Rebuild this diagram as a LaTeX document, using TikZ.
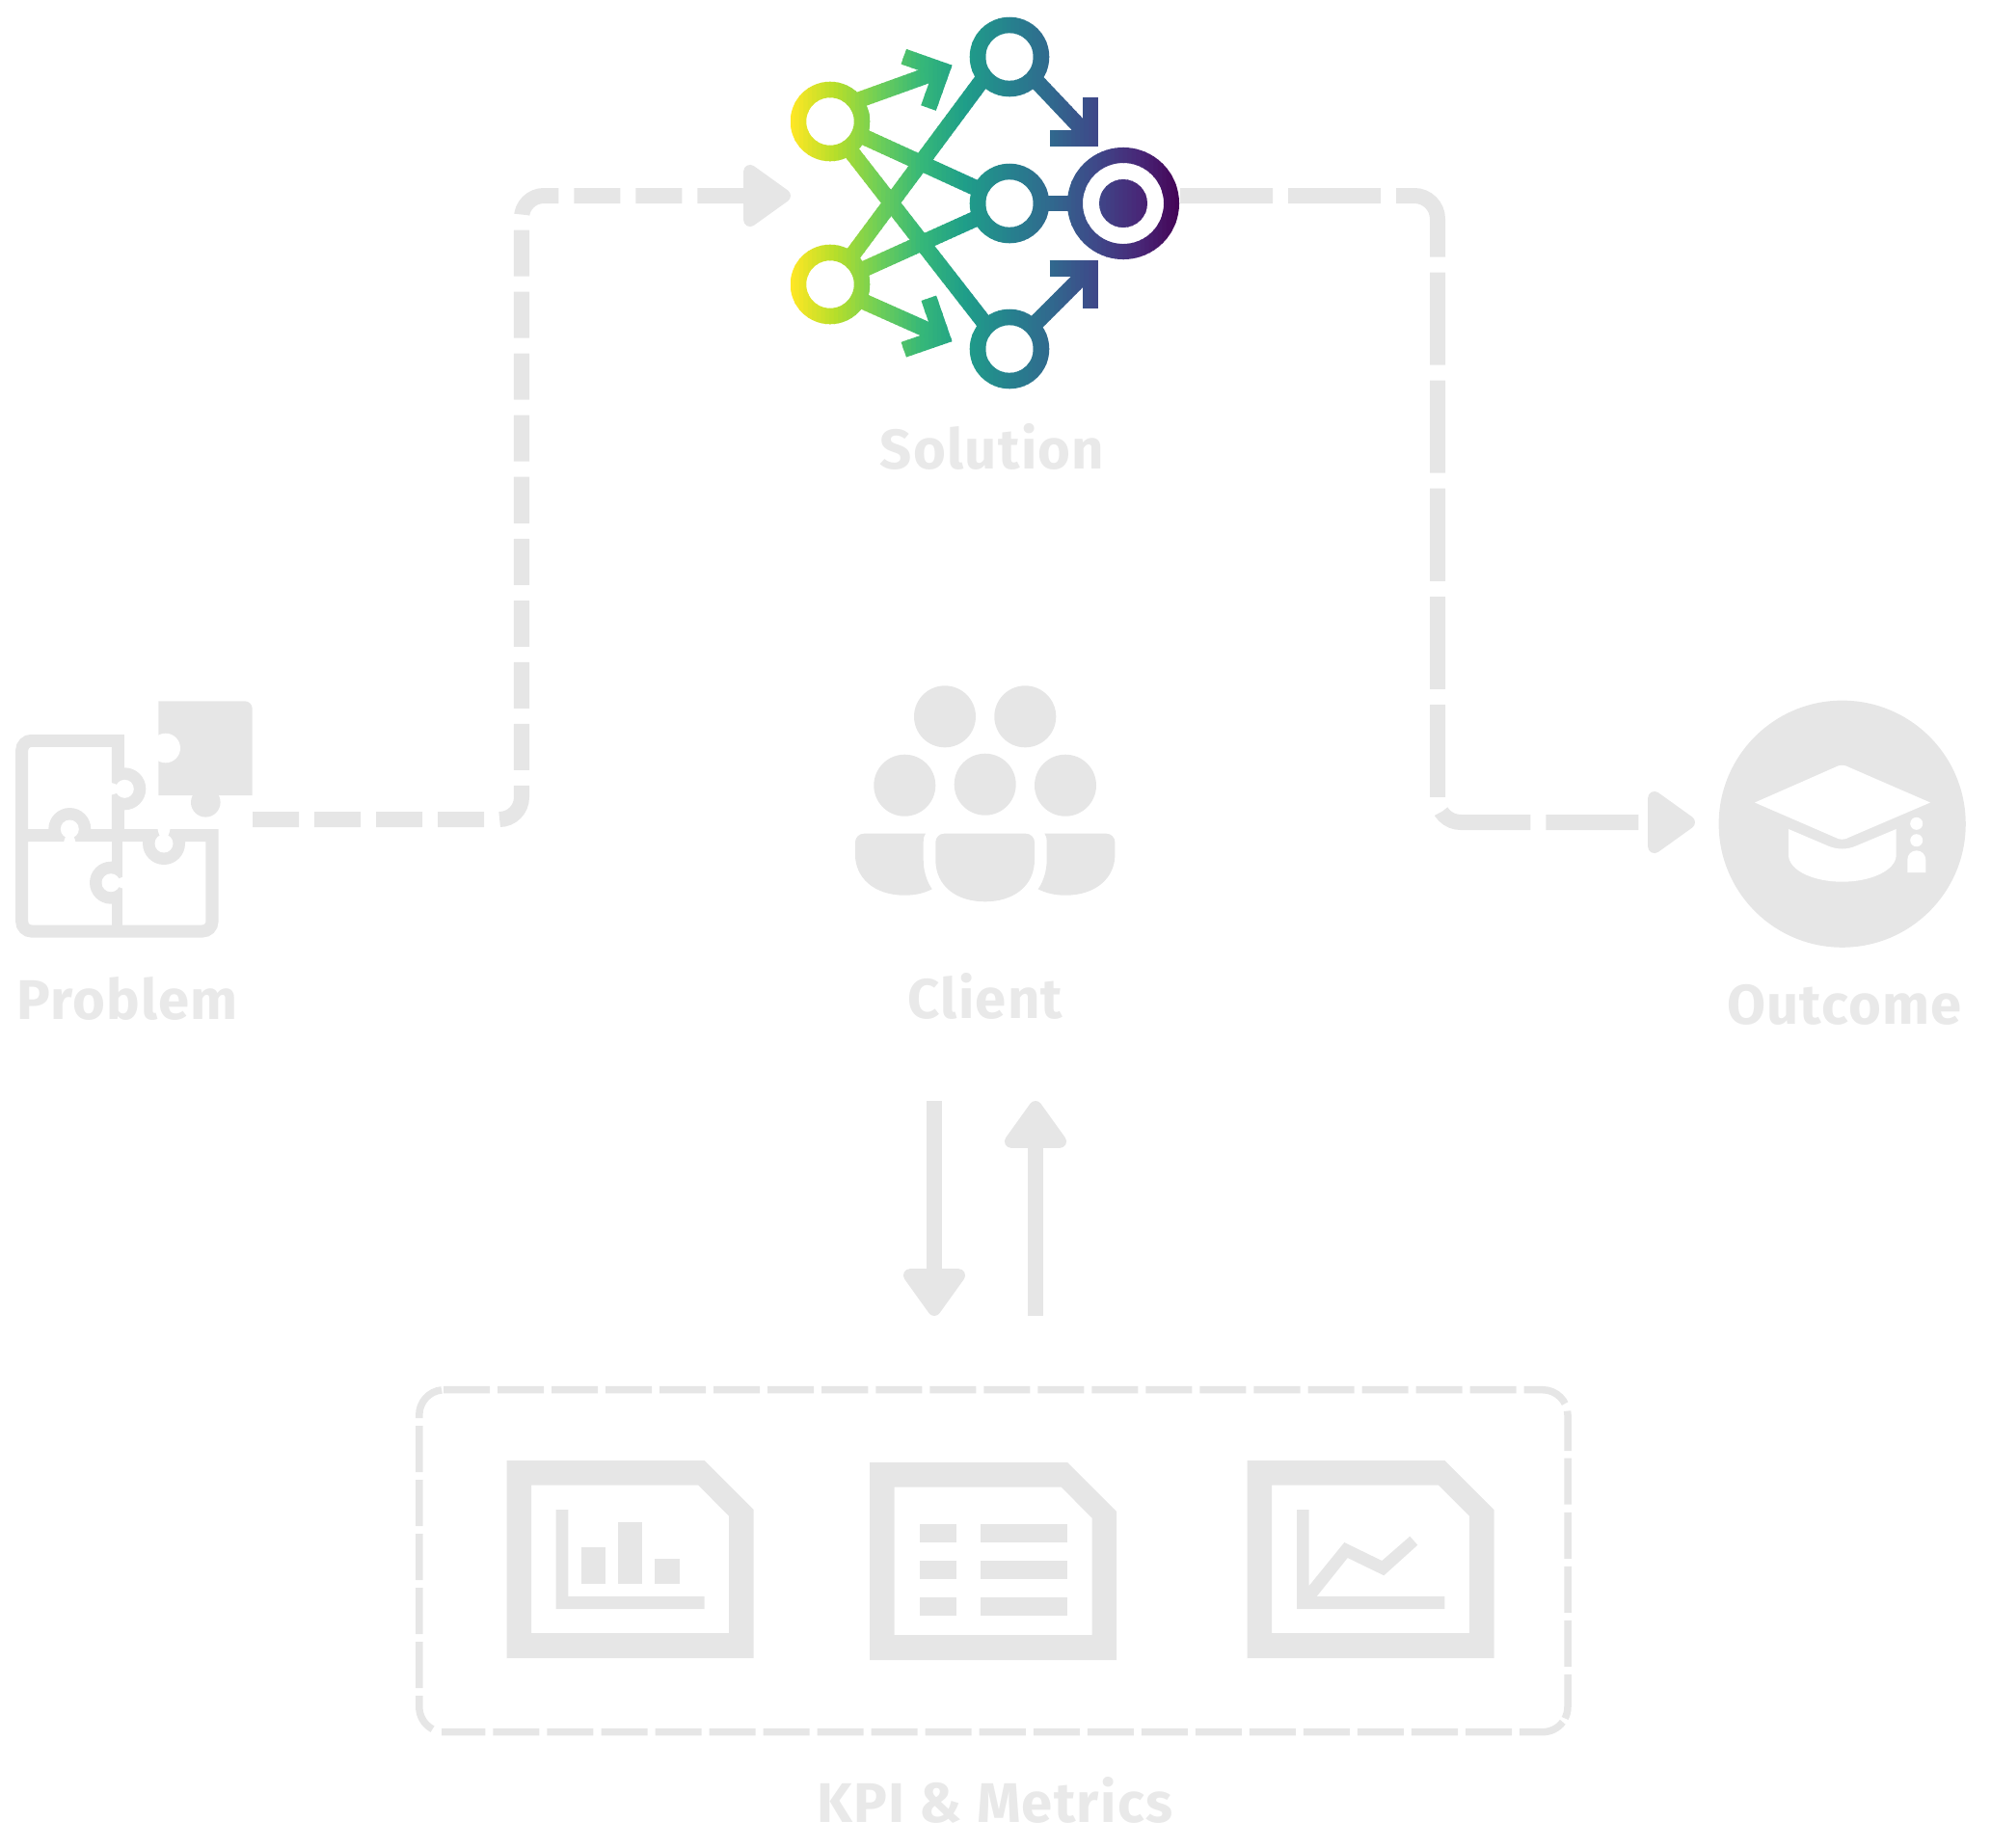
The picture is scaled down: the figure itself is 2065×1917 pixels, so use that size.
\documentclass[tikz,border=0pt]{standalone}
\usepackage{fontspec}
\setmainfont{Fira Sans}[LetterSpace=2.2]
\usetikzlibrary{arrows.meta, positioning}

\definecolor{icongray}{HTML}{E6E6E6}
\definecolor{vir0}{HTML}{FDE725}
\definecolor{vir1}{HTML}{B5DE2B}
\definecolor{vir2}{HTML}{6ECE58}
\definecolor{vir3}{HTML}{35B779}
\definecolor{vir4}{HTML}{1F9E89}
\definecolor{vir5}{HTML}{26828E}
\definecolor{vir6}{HTML}{31688E}
\definecolor{vir7}{HTML}{3E4989}
\definecolor{vir8}{HTML}{482878}
\definecolor{vir9}{HTML}{440154}

\tikzset{
  flowtip/.tip={Triangle[length=15.4pt,width=20.8pt,line width=4.4pt,round]},
  flowdash/.style={draw=icongray, line width=0.16cm, -{flowtip}},
  netnode/.style={circle, draw, line width=0.165cm, minimum size=0.66cm, inner sep=0pt, outer sep=0pt},
  netline/.style={line width=0.165cm},
  puzzleline/.style={draw=icongray, line width=0.13cm},
  kpidash/.style={draw=icongray, line width=0.075cm, dash pattern=on 0.48cm off 0.08cm},
  lbl/.style={anchor=base, text=icongray!90!white, font=\fontsize{16.5pt}{20pt}\selectfont\bfseries}
}

\newcommand{\solutionicon}{%
  \node[netnode] (inA) at (861,126) {};
  \node[netnode] (inB) at (861,295) {};
  \node[netnode] (hidA) at (1047,59) {};
  \node[netnode] (hidB) at (1047,211) {};
  \node[netnode] (hidC) at (1047,362) {};
  \node[netnode, line width=0.16cm, minimum size=1cm] (goal) at (1165,211) {};
  \fill (goal) circle (25);
  \coordinate (tipA) at (977,72.7);
  \coordinate (tipB) at (977,349);
  \coordinate (tipC) at (1131,143.3);
  \coordinate (tipD) at (1131,278.3);
  \coordinate (outA) at (890,104);
  \coordinate (outB) at (893.3,311.7);
  \coordinate (outC) at (1071.7,80.7);
  \coordinate (outD) at (1070.7,338.7);
  \coordinate (crossA) at (880,153.7);
  \coordinate (crossB) at (1023.7,338.3);
  \coordinate (crossC) at (881.3,268.3);
  \coordinate (crossD) at (1021,80);
  \draw[netline] (inA) -- (hidB);
  \draw[netline] (inB) -- (hidB);
  \draw[netline] (crossA) -- (crossB);
  \draw[netline] (crossC) -- (crossD);
  \draw[netline] (hidB) -- (goal);
  \draw[netline] (outA) -- (tipA);
  \draw[netline] (outB) -- (tipB);
  \draw[netline] (outC) -- (tipC);
  \draw[netline] (outD) -- (tipD);
  \draw[netline] (937.3,58.7) -- (tipA) -- (963,112);
  \draw[netline] (937.3,362.7) -- (tipB) -- (963.3,309.3);
  \draw[netline] (1131,101) -- (tipC) -- (1088.7,143.3);
  \draw[netline] (1088.7,278.3) -- (tipD) -- (1131,320);
}

\newcommand{\puzzletab}[3]{%
  \begin{scope}[shift={(#1,#2)}, rotate=#3]
    \fill[icongray] (-7,-22) -- (0,-22) arc (-90:90:22) -- (-7,22) -- cycle;
    \fill[white] (0,0) circle (9.5);
    \fill[white] (-15,-6.5) -- (-11,-5.5) -- (-5,-3) -- (-5,3) -- (-11,5.5) -- (-15,6.5) -- cycle;
  \end{scope}
}

\newcommand{\kpisheet}[2]{%
  \begin{scope}[shift={(#1,#2)}]
    \fill[icongray, even odd rule] (0,0) -- (205,0) -- (256,51) -- (256,205) -- (0,205) -- cycle
      (25.5,25.5) -- (198.5,25.5) -- (230.5,57.7) -- (230.5,179) -- (25.5,179) -- cycle;
  \end{scope}
}

\begin{document}
\begin{tikzpicture}[x=0.01cm, y=-0.01cm]
\useasboundingbox (0,0) rectangle (2065,1917);

\coordinate (problemout) at (262,850);
\coordinate (solutionin) at (820,203);
\coordinate (solutionout) at (1224,203);
\coordinate (outcomein) at (1758,853);
\coordinate (clienttop) at (969,1142);
\coordinate (kpitop) at (969,1365);
\coordinate (kpiup) at (1074,1365);
\coordinate (clientup) at (1074,1142);

\draw[flowdash, dash pattern=on 0.48cm off 0.16cm, rounded corners=0.23cm] (problemout) -- (541,850) -- (541,203) -- (solutionin);
\draw[flowdash, dash pattern=on 0.96cm off 0.16cm, rounded corners=0.24cm] (solutionout) -- (1491,203) -- (1491,853) -- (outcomein);
\draw[flowdash] (clienttop) -- (kpitop);
\draw[flowdash] (kpiup) -- (clientup);

\foreach \a/\b [count=\n from 0] in {vir0/vir1, vir1/vir2, vir2/vir3, vir3/vir4, vir4/vir5, vir5/vir6, vir6/vir7, vir7/vir8, vir8/vir9}{
  \foreach \s in {0,...,9}{
    \pgfmathsetmacro{\xa}{820+(\n*10+\s)*4.48}
    \pgfmathtruncatemacro{\p}{100-\s*10}
    \begin{scope}[color=\a!\p!\b]
      \clip (\xa,0) rectangle (\xa+5.5,420);
      \solutionicon
    \end{scope}
  }
}

\fill[icongray] (164.3,727.3) -- (254,727.3) arc (-90:0:7.7) -- (261.7,825) -- (164.3,825) -- cycle;
\fill[icongray] (213.3,832.3) circle (15.3);
\fill[white] (171.7,776) circle (15.3);
\draw[puzzleline] (122.3,866.7) -- (122.3,768.3) [rounded corners=0.1cm] -- (22.7,768.3) -- (22.7,966) -- (220,966) [sharp corners] -- (220,866.7) -- (22.7,866.7);
\draw[puzzleline, line width=0.115cm] (121.3,866.7) -- (121.3,966);
\puzzletab{129.3}{818.3}{0}
\puzzletab{72.3}{860}{90}
\puzzletab{115}{915.7}{180}
\puzzletab{170}{875}{-90}

\foreach \x/\y in {980/743.3, 1063.3/743.3, 938.3/814.7, 1021.7/813.7, 1105/814.7}
  \fill[icongray] (\x,\y) circle (32);
\fill[icongray] (970.3,873.7) arc (180:270:9) -- (1064,864.7) arc (-90:0:9) -- (1073,891.7) .. controls (1073,920) and (1050,935.3) .. (1021.7,935.3) .. controls (993,935.3) and (970.3,920) .. (970.3,891.7) -- cycle;
\fill[icongray] (887,873.7) arc (180:270:9) -- (960,864.7) .. controls (958,868) and (957.7,870) .. (957.7,873) -- (957.7,891.7) .. controls (957.7,903) and (961,914) .. (966.7,922.3) .. controls (958,926.7) and (949,928.7) .. (938.3,928.7) .. controls (906,928.7) and (887,910) .. (887,886.7) -- cycle;
\fill[icongray] (1156.4,873.7) arc (0:-90:9) -- (1083.4,864.7) .. controls (1085.4,868) and (1085.7,870) .. (1085.7,873) -- (1085.7,891.7) .. controls (1085.7,903) and (1082.4,914) .. (1076.7,922.3) .. controls (1085.4,926.7) and (1094.4,928.7) .. (1105,928.7) .. controls (1137.4,928.7) and (1156.4,910) .. (1156.4,886.7) -- cycle;

\node[circle, fill=icongray, minimum size=2.56cm, inner sep=0pt] (outcome) at (1910.7,854.7) {};
\fill[white, line join=round] (1820,832.5) -- (1903,796) .. controls (1908,793) and (1913,793) .. (1918,796) -- (2002,832.5) -- (1918,868.5) .. controls (1913,871.5) and (1908,871.5) .. (1903,868.5) -- cycle;
\fill[white] (1855,860) -- (1896,877.5) .. controls (1905,881.5) and (1916,881.5) .. (1925,877.5) -- (1966.7,860) -- (1966.7,886.7) .. controls (1966.7,903) and (1940,914.7) .. (1910.7,914.7) .. controls (1881,914.7) and (1855,903) .. (1855,886.7) -- cycle;
\fill[white] (1987.7,854.3) circle (6.5);
\fill[white] (1987.7,871.7) circle (6.5);
\fill[white] (1978.3,905) -- (1978.3,891.8) arc (180:360:9.5) -- (1997.3,905) -- cycle;

\draw[kpidash] (460,1441.7) -- (1600,1441.7) arc (-90:0:26) -- (1626,1505);
\draw[kpidash] (1626,1512.7) -- (1626,1770.7) arc (0:27:26);
\draw[kpidash] (1620.8,1786.3) arc (37:90:26) -- (458,1796.7);
\draw[kpidash] (434.8,1479) -- (434.8,1770.7) arc (180:118:26);
\draw[icongray, line width=0.075cm] (434.8,1471) -- (434.8,1467.7) arc (180:264:26);

\kpisheet{525.6}{1515}
\fill[icongray] (576.6,1566) -- (589.4,1566) -- (589.4,1656) -- (730.7,1656) -- (730.7,1669) -- (576.6,1669) -- cycle;
\fill[icongray] (602.7,1604.7) rectangle (628.2,1642.7);
\fill[icongray] (641,1579) rectangle (666.4,1642.7);
\fill[icongray] (679.2,1617.3) rectangle (704.7,1642.7);

\kpisheet{902.1}{1517}
\foreach \y in {1580.7, 1619, 1657.3}{
  \fill[icongray] (953.7,\y) rectangle (992,\y+19);
  \fill[icongray] (1017.4,\y) rectangle (1107.3,\y+19);
}

\kpisheet{1293.5}{1515}
\fill[icongray] (1345,1566) -- (1357.7,1566) -- (1357.7,1645) -- (1394.3,1600) -- (1433.3,1619) -- (1462.3,1593.7) -- (1470.3,1602.7) -- (1435.3,1634.3) -- (1397.7,1616) -- (1365.7,1656) -- (1498.3,1656) -- (1498.3,1669) -- (1345,1669) -- cycle;

\node[lbl] (problem) at (132,1057.7) {Problem};
\node[lbl] (solution) at (1029,486) {Solution};
\node[lbl] (client) at (1022,1056.7) {Client};
\node[lbl] (outcomelabel) at (1913,1062) {Outcome};
\node[lbl] (kpi) at (1032,1890) {KPI \& Metrics};
\end{tikzpicture}
\end{document}
